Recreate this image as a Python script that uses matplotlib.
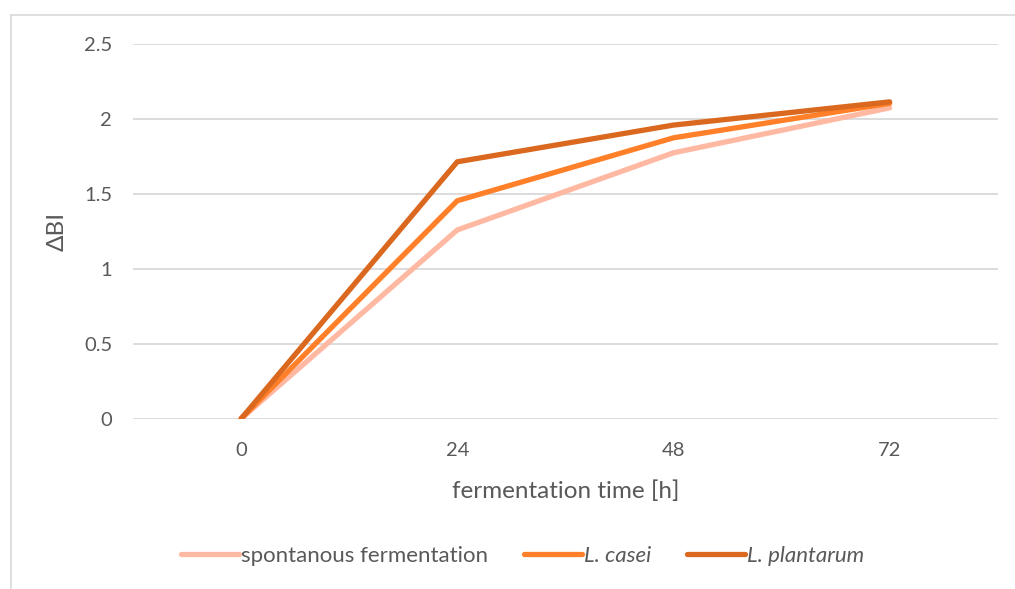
import matplotlib.pyplot as plt
from matplotlib.lines import Line2D

plt.rcParams['font.family'] = ['Lato', 'DejaVu Sans']

# ---- Data ----
times = ["0", "24", "48", "72"]
spontaneous = [0, 1.26, 1.775, 2.075]
casei = [0, 1.455, 1.875, 2.105]
plantarum = [0, 1.715, 1.96, 2.115]

series_names = ["spontanous fermentation", "L. casei", "L. plantarum"]
colors = ["#FFB9A3", "#FF8029", "#DA681E"]

text_col = "#595959"
grid_col = "#D9D9D9"

fig = plt.figure(figsize=(10.15, 5.89), dpi=100)
ax = fig.add_axes([0.131, 0.289, 0.852, 0.636])

x = range(len(times))
for vals, name, c in zip([spontaneous, casei, plantarum], series_names, colors):
    ax.plot(x, vals, color=c, lw=3.8, solid_capstyle="round",
            solid_joinstyle="round", label=name, zorder=3)

ax.set_xlim(-0.5, len(times) - 0.5)
ax.set_ylim(0, 2.5)
ax.set_yticks([0, 0.5, 1, 1.5, 2, 2.5])
ax.set_yticklabels(["0", "0.5", "1", "1.5", "2", "2.5"])
ax.set_xticks(list(x))
ax.set_xticklabels(times)

ax.grid(axis="y", color=grid_col, lw=1.3, zorder=0)
for s in ax.spines.values():
    s.set_visible(False)
ax.tick_params(length=0, labelsize=14.5, colors=text_col, pad=17)
ax.tick_params(axis="y", pad=15)

ax.set_xlabel("fermentation time [h]", fontsize=17.5, color=text_col, labelpad=15)
ax.set_ylabel("ΔBI", fontsize=17.5, color=text_col, labelpad=12)

# legend
handles = [Line2D([0], [0], color=c, lw=3.8, solid_capstyle="round") for c in colors]
leg = fig.legend(handles, series_names, loc="center", bbox_to_anchor=(0.515, 0.056),
                 ncol=3, frameon=False, fontsize=16, handlelength=2.6,
                 handletextpad=0.1, columnspacing=1.6)
for t in leg.get_texts():
    t.set_color(text_col)
leg.get_texts()[1].set_style("italic")
leg.get_texts()[2].set_style("italic")

# chart border (top and left visible)
fig.add_artist(Line2D([0.0105, 1.0], [0.975, 0.975], transform=fig.transFigure,
                      color=grid_col, lw=1.2))
fig.add_artist(Line2D([0.0105, 0.0105], [0.0, 0.975], transform=fig.transFigure,
                      color=grid_col, lw=1.2))

plt.savefig("out.png", dpi=100)
